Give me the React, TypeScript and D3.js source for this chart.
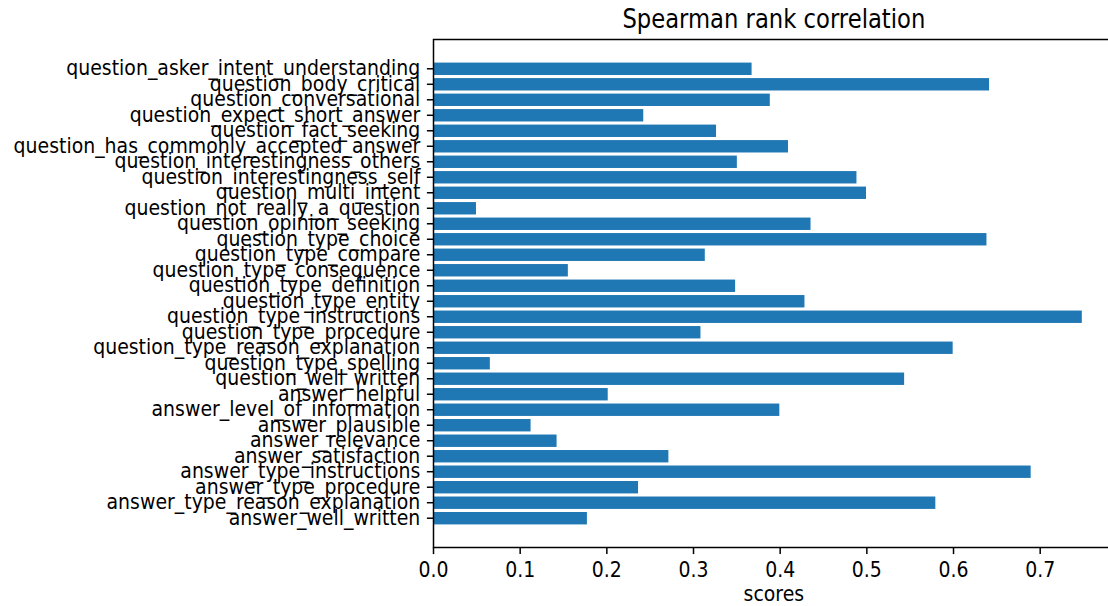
import React from "react";
import * as d3 from "d3";

// Target columns and their Spearman rank correlation scores
const categories: string[] = [
  "question_asker_intent_understanding",
  "question_body_critical",
  "question_conversational",
  "question_expect_short_answer",
  "question_fact_seeking",
  "question_has_commonly_accepted_answer",
  "question_interestingness_others",
  "question_interestingness_self",
  "question_multi_intent",
  "question_not_really_a_question",
  "question_opinion_seeking",
  "question_type_choice",
  "question_type_compare",
  "question_type_consequence",
  "question_type_definition",
  "question_type_entity",
  "question_type_instructions",
  "question_type_procedure",
  "question_type_reason_explanation",
  "question_type_spelling",
  "question_well_written",
  "answer_helpful",
  "answer_level_of_information",
  "answer_plausible",
  "answer_relevance",
  "answer_satisfaction",
  "answer_type_instructions",
  "answer_type_procedure",
  "answer_type_reason_explanation",
  "answer_well_written",
];

const scores: number[] = [
  0.367, 0.641, 0.388, 0.242, 0.326, 0.409, 0.35, 0.488, 0.499, 0.049,
  0.435, 0.638, 0.313, 0.155, 0.348, 0.428, 0.748, 0.308, 0.599, 0.065,
  0.543, 0.201, 0.399, 0.112, 0.142, 0.271, 0.689, 0.236, 0.579, 0.177,
];

const xTicks: number[] = [0.0, 0.1, 0.2, 0.3, 0.4, 0.5, 0.6, 0.7];

const title = "Spearman rank correlation";
const xLabel = "scores";

const W = 1108;
const H = 606;
const FONT = "'DejaVu Sans', sans-serif";
const BAR_COLOR = "#1f77b4";
// glyphs are drawn slightly taller than wide
const STRETCH = 1.15;

export default function App() {
  const left = 433.5;
  const top = 39.5;
  const bottom = 547.5;

  const n = categories.length;
  const barH = 0.8;
  // matplotlib-style autoscale: 5% margins, bars sticky at zero
  const dataLo = -barH / 2;
  const dataHi = n - 1 + barH / 2;
  const ySpan = dataHi - dataLo;
  const yScale = d3
    .scaleLinear()
    .domain([dataLo - 0.05 * ySpan, dataHi + 0.05 * ySpan])
    .range([top, bottom]);

  const xMax = (d3.max(scores) ?? 0) * 1.05;
  const pxPerUnit = 866.7;
  const right = left + xMax * pxPerUnit;
  const xScale = d3.scaleLinear().domain([0, xMax]).range([left, right]);

  const tickLen = 6.6;
  const pad = 6.6;
  const tickFont = 18.9;
  const titleFont = 22.7;

  return (
    <svg
      width={W}
      height={H}
      style={{ position: "absolute", left: 0, top: 0, background: "#fff", overflow: "hidden" }}
      fontFamily={FONT}
    >
      <rect x={0} y={0} width={W} height={H} fill="#fff" />

      {/* bars */}
      {scores.map((v, i) => (
        <rect
          key={categories[i]}
          x={xScale(0)}
          y={yScale(i - barH / 2)}
          width={xScale(v) - xScale(0)}
          height={yScale(i + barH / 2) - yScale(i - barH / 2)}
          fill={BAR_COLOR}
        />
      ))}

      {/* spines */}
      <rect
        x={left}
        y={top}
        width={right - left}
        height={bottom - top}
        fill="none"
        stroke="#000"
        strokeWidth={1.5}
      />

      {/* y ticks and labels */}
      {categories.map((c, i) => (
        <g key={c} transform={`translate(0,${yScale(i)})`}>
          <line x1={left - tickLen} x2={left} y1={0} y2={0} stroke="#000" strokeWidth={1.5} />
          <g transform={`translate(${left - tickLen - pad},-1.5) scale(1,${STRETCH})`}>
            <text x={0} y={0} dy="0.36em" textAnchor="end" fontSize={tickFont} fill="#000">
              {c}
            </text>
          </g>
        </g>
      ))}

      {/* x ticks and labels */}
      {xTicks.map((t) => (
        <g key={t} transform={`translate(${xScale(t)},0)`}>
          <line x1={0} x2={0} y1={bottom} y2={bottom + tickLen} stroke="#000" strokeWidth={1.5} />
          <g transform={`translate(0,${bottom + tickLen + pad + 0.76 * tickFont * STRETCH}) scale(1,${STRETCH})`}>
            <text x={0} y={0} textAnchor="middle" fontSize={tickFont} fill="#000">
              {t.toFixed(1)}
            </text>
          </g>
        </g>
      ))}

      <g transform={`translate(${(left + right) / 2},601) scale(1,${STRETCH})`}>
        <text x={0} y={0} textAnchor="middle" fontSize={tickFont} fill="#000">
          {xLabel}
        </text>
      </g>

      <g transform={`translate(${(left + right) / 2},${top - 11.3}) scale(1,${STRETCH})`}>
        <text x={0} y={0} textAnchor="middle" fontSize={titleFont} fill="#000">
          {title}
        </text>
      </g>
    </svg>
  );
}
